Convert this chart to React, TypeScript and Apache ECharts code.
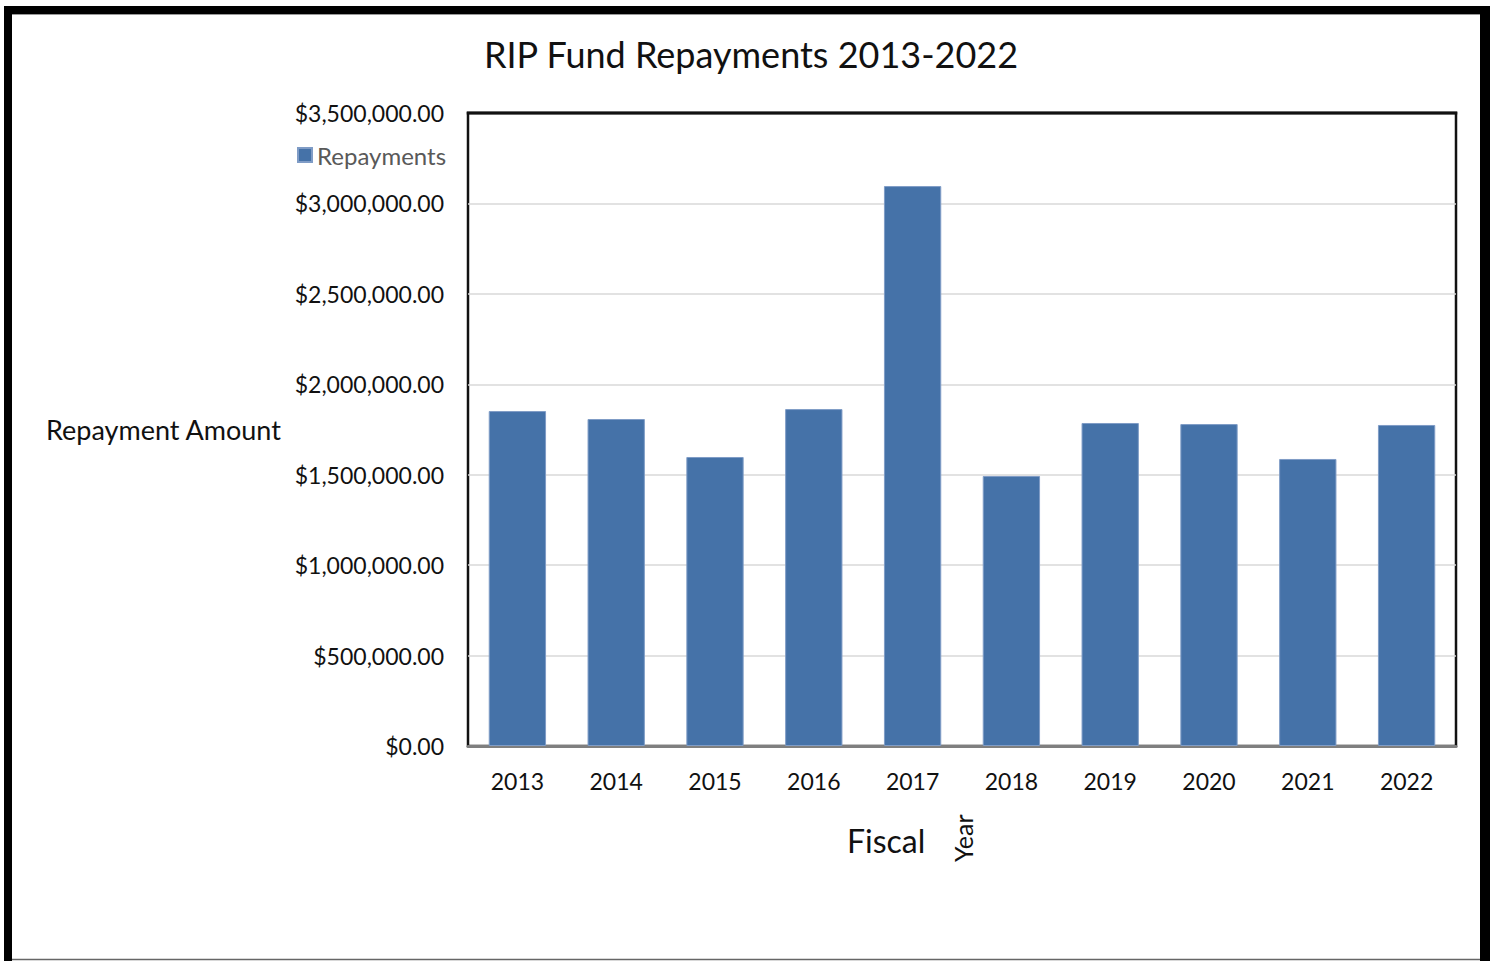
import React, { useEffect, useRef } from "react";
import * as echarts from "echarts";

const categories = ["2013", "2014", "2015", "2016", "2017", "2018", "2019", "2020", "2021", "2022"];
const repayments = [1852000, 1808000, 1598000, 1863000, 3096000, 1493000, 1786000, 1780000, 1587000, 1775000];
const yTicks = { min: 0, max: 3500000, interval: 500000 };

const FONT = "Lato";

export default function App() {
  const ref = useRef<HTMLDivElement>(null);
  useEffect(() => {
    if (!ref.current) return;
    const chart = echarts.init(ref.current, undefined, { renderer: "svg" });
    chart.setOption({
      animation: false,
      backgroundColor: "#fff",
      title: {
        text: "RIP Fund Repayments 2013-2022",
        left: 746,
        textAlign: "center",
        top: 31,
        textStyle: { fontFamily: FONT, fontSize: 36, fontWeight: "normal", color: "#111" },
      },
      legend: {
        data: ["Repayments"],
        left: 292,
        top: 138,
        icon: "rect",
        itemWidth: 14,
        itemHeight: 14,
        itemGap: 7,
        textStyle: { fontFamily: FONT, fontSize: 24, color: "#595959" },
      },
      grid: {
        left: 468,
        top: 113,
        width: 988,
        height: 633,
        show: true,
        borderColor: "#111",
        borderWidth: 2.5,
        backgroundColor: "transparent",
      },
      xAxis: {
        type: "category",
        data: categories,
        axisLine: { show: true, lineStyle: { color: "#7f7f7f", width: 3 } },
        axisTick: { show: false },
        axisLabel: { fontFamily: FONT, fontSize: 23, color: "#111", margin: 23 },
      },
      yAxis: {
        type: "value",
        min: yTicks.min,
        max: yTicks.max,
        interval: yTicks.interval,
        axisLine: { show: false },
        axisTick: { show: false },
        splitLine: { showMaxLine: false, showMinLine: false, lineStyle: { color: "#d9d9d9", width: 1.5 } },
        axisLabel: {
          fontFamily: FONT,
          fontSize: 23,
          color: "#111",
          margin: 24,
          formatter: (v: number) =>
            "$" + v.toLocaleString("en-US", { minimumFractionDigits: 2, maximumFractionDigits: 2 }),
        },
      },
      series: [
        {
          name: "Repayments",
          type: "bar",
          data: repayments,
          barWidth: "58%",
          itemStyle: { color: "#4572a8", borderColor: "#7f9cc6", borderWidth: 1 },
        },
      ],
      graphic: [
        { type: "rect", shape: { x: 4, y: 6, width: 1486, height: 8 }, style: { fill: "#000" } },
        { type: "rect", shape: { x: 4, y: 6, width: 8, height: 955 }, style: { fill: "#000" } },
        { type: "rect", shape: { x: 1480, y: 6, width: 10, height: 955 }, style: { fill: "#000" } },
        { type: "line", shape: { x1: 12, y1: 14.5, x2: 1480, y2: 14.5 }, style: { stroke: "#999", lineWidth: 1 } },
        { type: "line", shape: { x1: 12, y1: 959.5, x2: 1480, y2: 959.5 }, style: { stroke: "#666", lineWidth: 1.5 } },
        {
          type: "line",
          z: 100,
          shape: { x1: 466.75, y1: 113, x2: 1457.25, y2: 113 },
          style: { stroke: "#111", lineWidth: 3 },
        },
        {
          type: "text",
          left: 46,
          top: 416,
          style: { text: "Repayment Amount", fontFamily: FONT, fontSize: 27, fill: "#111" },
        },
        {
          type: "text",
          left: 847,
          top: 824,
          style: { text: "Fiscal", fontFamily: FONT, fontSize: 32, fill: "#111" },
        },
        {
          type: "text",
          x: 950,
          y: 862,
          rotation: Math.PI / 2,
          style: { text: "Year", fontFamily: FONT, fontSize: 25, fill: "#111", textVerticalAlign: "top" },
        },
      ],
    });
    return () => chart.dispose();
  }, []);
  return (
    <div
      ref={ref}
      style={{ position: "absolute", left: 0, top: 0, width: 1496, height: 961 }}
    />
  );
}
